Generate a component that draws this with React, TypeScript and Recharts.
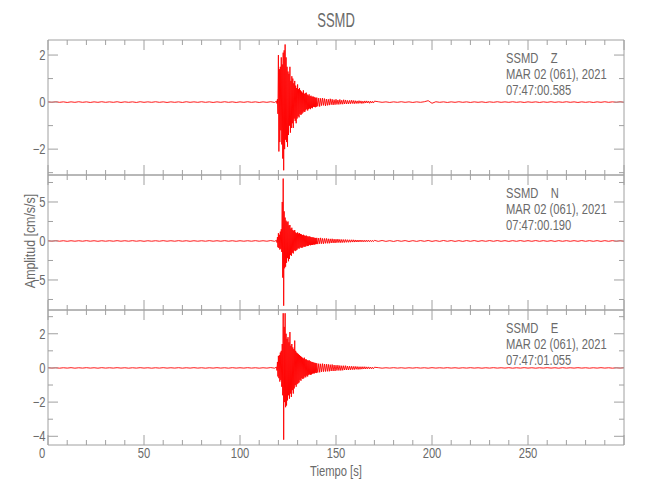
import { LineChart, Line, XAxis, YAxis } from "recharts";

// trace sampling: start time and spacing (s) of each stretch of samples
const earlyStart = 0;
const earlyStep = 2; // 0 .. 118 s
const burstStart = 119;
const burstStep = 0.25; // 119 .. 140 s
const codaStart = 140.5;
const codaStep = 0.5; // 140.5 .. 170 s
const lateStart = 172;
const lateStep = 2; // 172 .. 300 s

// ---- Z component (cm/s/s)
const zEarly = [
  0.01, -0.01, 0.015, -0.01, 0.01, -0.015, 0.01, -0.01, 0.015, -0.01,
  0.01, -0.015, 0.01, -0.01, 0.015, -0.01, 0.01, -0.01, 0.015, -0.015,
  0.01, -0.01, 0.01, -0.015, 0.015, -0.01, 0.01, -0.01, 0.015, -0.01,
  0.01, -0.015, 0.01, -0.01, 0.01, -0.015, 0.015, -0.01, 0.01, -0.01,
  0.015, -0.01, 0.01, -0.015, 0.01, -0.01, 0.015, -0.01, 0.01, -0.015,
  0.01, -0.01, 0.015, -0.01, 0.01, -0.015, 0.01, -0.01, 0.015, -0.015,
];
const zBurst = [
  0.04, -0.06, 0.12, -0.5, 2.0, -2.1, 1.4, -1.7, 1.5, -1.2,
  1.9, -1.8, 1.6, -2.4, 2.1, -2.9, 2.2, -2.0, 2.45, -1.6,
  1.9, -1.7, 1.5, -1.9, 1.3, -1.4, 1.2, -1.0, 1.5, -1.3,
  0.9, -1.1, 1.1, -0.9, 1.0, -1.1, 0.8, -0.7, 0.9, -0.8,
  0.7, -0.9, 0.6, -0.7, 0.75, -0.6, 0.55, -0.65, 0.6, -0.5,
  0.5, -0.55, 0.45, -0.5, 0.4, -0.45, 0.5, -0.4, 0.35, -0.42,
  0.38, -0.35, 0.4, -0.3, 0.32, -0.36, 0.28, -0.3, 0.33, -0.27,
  0.25, -0.3, 0.27, -0.24, 0.22, -0.26, 0.24, -0.2, 0.22, -0.21,
  0.2, -0.22, 0.18, -0.2, 0.19,
];
const zCoda = [
  -0.18, 0.17, -0.19, 0.16, -0.15, 0.17, -0.14, 0.15, -0.16, 0.13,
  -0.14, 0.12, -0.13, 0.14, -0.11, 0.12, -0.12, 0.1, -0.11, 0.12,
  -0.1, 0.09, -0.1, 0.11, -0.09, 0.08, -0.09, 0.1, -0.08, 0.09,
  -0.08, 0.07, -0.08, 0.07, -0.07, 0.08, -0.06, 0.07, -0.07, 0.06,
  -0.06, 0.05, -0.06, 0.06, -0.05, 0.05, -0.06, 0.04, -0.05, 0.05,
  -0.04, 0.05, -0.04, 0.04, -0.05, 0.04, -0.04, 0.03, -0.04, 0.04,
];
const zLate = [
  0.015, -0.01, 0.01, -0.015, 0.01, -0.01, 0.015, -0.01, 0.01, -0.015,
  0.01, -0.01, 0.015, 0.06, -0.05, 0.015, -0.01, 0.01, -0.015, 0.01,
  -0.01, 0.015, -0.01, 0.01, -0.015, 0.01, -0.01, 0.01, -0.015, 0.01,
  -0.01, 0.015, -0.01, 0.01, -0.01, 0.015, -0.01, 0.01, -0.015, 0.01,
  -0.01, 0.01, -0.015, 0.01, -0.01, 0.015, -0.01, 0.01, -0.01, 0.015,
  -0.01, 0.01, -0.015, 0.01, -0.01, 0.01, -0.015, 0.01, -0.01, 0.015,
  -0.01, 0.01, -0.01, 0.015, -0.01,
];

// ---- N component
const nEarly = [
  0.03, -0.03, 0.04, -0.03, 0.03, -0.04, 0.03, -0.03, 0.03, -0.03,
  0.04, -0.03, 0.03, -0.04, 0.03, -0.03, 0.03, -0.03, 0.04, -0.03,
  0.03, -0.03, 0.04, -0.03, 0.03, -0.04, 0.03, -0.03, 0.03, -0.03,
  0.04, -0.03, 0.03, -0.03, 0.04, -0.03, 0.03, -0.04, 0.03, -0.03,
  0.03, -0.03, 0.04, -0.03, 0.03, -0.03, 0.04, -0.03, 0.03, -0.04,
  0.03, -0.03, 0.03, -0.03, 0.04, -0.03, 0.03, -0.03, 0.05, -0.04,
];
const nBurst = [
  0.08, -0.2, 0.5, -0.8, 1.0, -0.9, 0.8, -1.1, 1.2, -1.0,
  1.5, -1.4, 5.0, -4.7, 8.0, -8.3, 3.8, -3.5, 3.0, -3.3,
  2.6, -2.8, 2.4, -2.2, 2.5, -2.6, 2.0, -2.3, 2.05, -1.8,
  1.6, -1.9, 1.7, -1.5, 1.4, -1.6, 1.3, -1.2, 1.4, -1.3,
  1.1, -1.2, 1.0, -1.1, 1.1, -0.9, 0.95, -1.0, 1.0, -0.85,
  0.9, -0.8, 0.85, -0.9, 0.75, -0.8, 0.8, -0.7, 0.7, -0.75,
  0.65, -0.7, 0.7, -0.6, 0.6, -0.65, 0.55, -0.6, 0.6, -0.5,
  0.55, -0.55, 0.5, -0.5, 0.45, -0.5, 0.48, -0.45, 0.42, -0.46,
  0.4, -0.42, 0.38, -0.4, 0.4,
];
const nCoda = [
  -0.4, 0.38, -0.36, 0.4, -0.35, 0.33, -0.36, 0.32, -0.3, 0.33,
  -0.3, 0.28, -0.3, 0.27, -0.26, 0.28, -0.25, 0.24, -0.26, 0.23,
  -0.22, 0.24, -0.21, 0.2, -0.22, 0.19, -0.2, 0.18, -0.19, 0.18,
  -0.17, 0.16, -0.17, 0.15, -0.16, 0.15, -0.14, 0.15, -0.14, 0.13,
  -0.13, 0.12, -0.13, 0.12, -0.11, 0.12, -0.11, 0.1, -0.11, 0.1,
  -0.1, 0.1, -0.09, 0.1, -0.09, 0.08, -0.09, 0.08, -0.08, 0.08,
];
const nLate = [
  -0.05, 0.06, -0.05, 0.04, -0.06, 0.05, -0.04, 0.05, -0.06, 0.04,
  -0.05, 0.05, -0.04, 0.06, -0.05, 0.04, -0.05, 0.06, -0.04, 0.05,
  -0.05, 0.04, -0.05, 0.05, -0.04, 0.05, -0.05, 0.04, -0.04, 0.05,
  -0.04, 0.05, -0.04, 0.04, -0.05, 0.04, -0.04, 0.05, -0.04, 0.04,
  -0.04, 0.05, -0.04, 0.04, -0.04, 0.04, -0.05, 0.04, -0.04, 0.04,
  -0.04, 0.04, -0.04, 0.05, -0.04, 0.04, -0.04, 0.04, -0.05, 0.04,
  -0.04, 0.04, -0.04, 0.04, -0.04,
];

// ---- E component
const eEarly = [
  0.015, -0.01, 0.01, -0.015, 0.01, -0.01, 0.015, -0.015, 0.01, -0.01,
  0.015, -0.01, 0.01, -0.015, 0.015, -0.01, 0.01, -0.01, 0.015, -0.01,
  0.01, -0.015, 0.01, -0.01, 0.015, -0.01, 0.01, -0.015, 0.01, -0.01,
  0.015, -0.01, 0.01, -0.01, 0.015, -0.015, 0.01, -0.01, 0.015, -0.01,
  0.01, -0.015, 0.01, -0.01, 0.015, -0.01, 0.01, -0.015, 0.015, -0.01,
  0.01, -0.01, 0.015, -0.01, 0.01, -0.015, 0.01, -0.01, 0.02, -0.015,
];
const eBurst = [
  0.05, -0.15, 0.35, -0.5, 0.7, -0.6, 0.75, -0.8, 0.9, -0.7,
  1.0, -1.1, 1.4, -1.6, 3.2, -4.2, 2.4, -2.0, 3.2, -2.3,
  2.0, -2.2, 1.7, -1.9, 1.8, -1.6, 1.5, -1.8, 2.1, -1.5,
  1.3, -1.7, 1.4, -1.3, 1.2, -1.5, 1.1, -1.2, 1.6, -1.0,
  1.0, -1.1, 0.9, -0.95, 0.85, -0.9, 0.8, -0.85, 0.75, -0.7,
  0.7, -0.75, 0.65, -0.6, 0.6, -0.65, 0.55, -0.6, 0.6, -0.5,
  0.5, -0.55, 0.5, -0.45, 0.45, -0.5, 0.42, -0.4, 0.45, -0.38,
  0.4, -0.4, 0.36, -0.38, 0.35, -0.33, 0.34, -0.32, 0.3, -0.32,
  0.3, -0.28, 0.28, -0.3, 0.27,
];
const eCoda = [
  -0.27, 0.25, -0.26, 0.24, -0.23, 0.25, -0.22, 0.23, -0.21, 0.22,
  -0.2, 0.21, -0.2, 0.19, -0.18, 0.2, -0.18, 0.17, -0.18, 0.16,
  -0.15, 0.16, -0.15, 0.14, -0.15, 0.13, -0.14, 0.13, -0.12, 0.13,
  -0.12, 0.11, -0.12, 0.1, -0.11, 0.1, -0.1, 0.09, -0.1, 0.09,
  -0.08, 0.08, -0.09, 0.07, -0.08, 0.07, -0.07, 0.07, -0.06, 0.07,
  -0.06, 0.06, -0.05, 0.06, -0.05, 0.05, -0.05, 0.04, -0.05, 0.04,
];
const eLate = [
  0.015, -0.015, 0.01, -0.01, 0.015, -0.01, 0.01, -0.015, 0.01, -0.01,
  0.015, -0.01, 0.01, -0.015, 0.015, -0.01, 0.01, -0.01, 0.015, -0.01,
  0.01, -0.015, 0.01, -0.01, 0.015, -0.01, 0.01, -0.015, 0.01, -0.01,
  0.015, -0.01, 0.01, -0.01, 0.015, -0.015, 0.01, -0.01, 0.015, -0.01,
  0.01, -0.015, 0.01, -0.01, 0.015, -0.01, 0.01, -0.015, 0.015, -0.01,
  0.01, -0.01, 0.015, -0.01, 0.01, -0.015, 0.01, -0.01, 0.015, -0.01,
  0.01, -0.015, 0.01, -0.01, 0.015,
];

// axis ticks
const xMajor = [0, 50, 100, 150, 200, 250, 300];
const xMinor = [
  10, 20, 30, 40, 60, 70, 80, 90, 110, 120, 130, 140, 160, 170, 180, 190,
  210, 220, 230, 240, 260, 270, 280, 290,
];
const xLabelled = [0, 50, 100, 150, 200, 250];

const channels = ["Z", "N", "E"];
const startTimes = ["07:47:00.585", "07:47:00.190", "07:47:01.055"];
const dateLine = "MAR 02 (061), 2021";

const zDomain = [-3.1, 2.64];
const nDomain = [-8.85, 8.46];
const eDomain = [-4.51, 3.39];
const zMajor = [-2, 0, 2];
const zMinor = [-3, -1, 1];
const nMajor = [-5, 0, 5];
const nMinor = [-7.5, -2.5, 2.5, 7.5];
const eMajor = [-4, -2, 0, 2];
const eMinor = [-3, -1, 1, 3];

const AXIS = "#a0a0a0";
const TEXT = "#6a6a6a";
const FONT = "'Liberation Sans', Arial, sans-serif";
const SQUEEZE = 0.8; // narrow lettering like the plotting font

function buildTrace(early: number[], burst: number[], coda: number[], late: number[]) {
  const out: { t: number; v: number }[] = [];
  early.forEach((v, i) => out.push({ t: earlyStart + i * earlyStep, v }));
  burst.forEach((v, i) => out.push({ t: burstStart + i * burstStep, v }));
  coda.forEach((v, i) => out.push({ t: codaStart + i * codaStep, v }));
  late.forEach((v, i) => out.push({ t: lateStart + i * lateStep, v }));
  return out;
}

const fmt = (v: number) => (v < 0 ? "\u2212" + Math.abs(v) : String(v));

// narrow text: positioned at (x, y), squeezed horizontally
function NText({
  x,
  y,
  size,
  anchor = "start",
  rotate = 0,
  squeeze = SQUEEZE,
  dy,
  pre,
  children,
}: {
  x: number;
  y: number;
  size: number;
  anchor?: "start" | "middle" | "end";
  rotate?: number;
  squeeze?: number;
  dy?: string;
  pre?: boolean;
  children: any;
}) {
  return (
    <text
      transform={`translate(${x} ${y}) rotate(${rotate}) scale(${squeeze} 1)`}
      x={0}
      y={0}
      dy={dy}
      textAnchor={anchor}
      fontSize={size}
      fontFamily={FONT}
      fill={TEXT}
      style={pre ? { whiteSpace: "pre" } : undefined}
    >
      {children}
    </text>
  );
}

function xTick(side: "top" | "bottom", labels: boolean) {
  return (props: any) => {
    const { x, y, payload } = props;
    const v = payload.value;
    const len = xMajor.includes(v) ? 10 : 5;
    return (
      <g>
        <line x1={x} y1={y} x2={x} y2={side === "top" ? y + len : y - len} stroke={AXIS} />
        {labels && xLabelled.includes(v) && (
          <NText x={v === 0 ? x - 6 : x} y={y + 13} size={14} anchor="middle">
            {v}
          </NText>
        )}
      </g>
    );
  };
}

function yTick(side: "left" | "right", majors: number[], labels: boolean) {
  return (props: any) => {
    const { x, y, payload } = props;
    const v = payload.value;
    const major = majors.includes(v);
    const len = major ? 10 : 5;
    return (
      <g>
        <line x1={x} y1={y} x2={side === "left" ? x + len : x - len} y2={y} stroke={AXIS} />
        {labels && major && (
          <NText x={x - 2.5} y={y} dy="0.36em" size={14} anchor="end">
            {fmt(v)}
          </NText>
        )}
      </g>
    );
  };
}

type PanelProps = {
  data: { t: number; v: number }[];
  domain: number[];
  major: number[];
  minor: number[];
  top: number;
  last?: boolean;
};

function Panel({ data, domain, major, minor, top, last }: PanelProps) {
  const bottomH = last ? 45 : 1;
  const yTicks = [...major, ...minor].sort((a, b) => a - b);
  const xTicks = [...xMajor, ...xMinor].sort((a, b) => a - b);
  return (
    <div style={{ position: "absolute", left: 0, top: top - 1 }}>
      <LineChart
        width={650}
        height={1 + 135 + bottomH}
        data={data}
        margin={{ top: 0, right: 0, bottom: 0, left: 0 }}
      >
        <XAxis
          xAxisId="top"
          orientation="top"
          type="number"
          dataKey="t"
          domain={[0, 300]}
          allowDataOverflow
          ticks={xTicks}
          interval={0}
          height={1}
          tickSize={0}
          tickMargin={0}
          tickLine={false}
          axisLine={{ stroke: AXIS }}
          tick={xTick("top", false)}
        />
        <XAxis
          type="number"
          dataKey="t"
          domain={[0, 300]}
          allowDataOverflow
          ticks={xTicks}
          interval={0}
          height={bottomH}
          tickSize={0}
          tickMargin={0}
          tickLine={false}
          axisLine={{ stroke: AXIS }}
          tick={xTick("bottom", !!last)}
        />
        <YAxis
          type="number"
          domain={domain}
          allowDataOverflow
          ticks={yTicks}
          interval={0}
          width={48}
          tickSize={0}
          tickMargin={0}
          tickLine={false}
          axisLine={{ stroke: AXIS }}
          tick={yTick("left", major, true)}
        />
        <YAxis
          yAxisId="right"
          orientation="right"
          type="number"
          domain={domain}
          allowDataOverflow
          ticks={yTicks}
          interval={0}
          width={26}
          tickSize={0}
          tickMargin={0}
          tickLine={false}
          axisLine={{ stroke: AXIS }}
          tick={yTick("right", major, false)}
        />
        <Line
          type="linear"
          dataKey="v"
          stroke="#ff0000"
          strokeWidth={0.9}
          dot={false}
          isAnimationActive={false}
        />
      </LineChart>
    </div>
  );
}

const zData = buildTrace(zEarly, zBurst, zCoda, zLate);
const nData = buildTrace(nEarly, nBurst, nCoda, nLate);
const eData = buildTrace(eEarly, eBurst, eCoda, eLate);

const panelTops = [40, 175, 310];

export default function App() {
  return (
    <div
      style={{
        position: "absolute",
        left: 0,
        top: 0,
        width: 650,
        height: 500,
        background: "#fff",
      }}
    >
      <Panel data={zData} domain={zDomain} major={zMajor} minor={zMinor} top={panelTops[0]} />
      <Panel data={nData} domain={nDomain} major={nMajor} minor={nMinor} top={panelTops[1]} />
      <Panel data={eData} domain={eDomain} major={eMajor} minor={eMinor} top={panelTops[2]} last />
      <svg
        width={650}
        height={500}
        style={{ position: "absolute", left: 0, top: 0, pointerEvents: "none" }}
      >
        <NText x={336} y={27} size={21} anchor="middle" squeeze={0.62}>
          SSMD
        </NText>
        {channels.map((ch, i) => (
          <g key={ch}>
            <NText x={506} y={panelTops[i] + 23} size={14} pre>
              {"SSMD    " + ch}
            </NText>
            <NText x={506} y={panelTops[i] + 39} size={14}>
              {dateLine}
            </NText>
            <NText x={506} y={panelTops[i] + 55} size={14}>
              {startTimes[i]}
            </NText>
          </g>
        ))}
        <NText x={35} y={241} size={15.5} anchor="middle" rotate={-90}>
          Amplitud [cm/s/s]
        </NText>
        <NText x={336} y={476} size={14} anchor="middle">
          Tiempo [s]
        </NText>
      </svg>
    </div>
  );
}
